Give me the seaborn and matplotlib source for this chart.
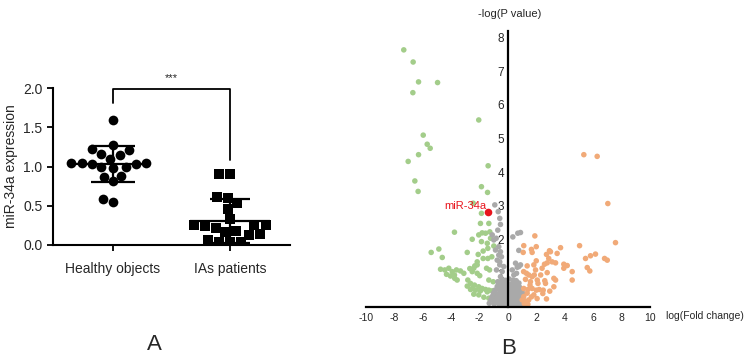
import matplotlib
matplotlib.use("Agg")
import matplotlib.pyplot as plt
import pandas as pd
import seaborn as sns

# ---- panel A: miR-34a expression ----
groups = ["Healthy objects", "IAs patients"]
healthy_vals = [1.59, 1.27, 1.21, 1.22, 1.16, 1.15, 1.10,
                1.04, 1.04, 1.04, 1.03, 1.03,
                0.99, 0.98, 0.99, 0.87, 0.88, 0.81, 0.55, 0.59]
ias_vals = [0.90, 0.90, 0.60, 0.61, 0.53, 0.46, 0.33,
            0.25, 0.25, 0.24, 0.25, 0.22,
            0.16, 0.13, 0.18, 0.14,
            0.04, 0.04, 0.04, 0.06]
group_means = [1.03, 0.30]
group_sds = [0.23, 0.28]
bracket_y = [1.99, 1.81, 1.08]   # top, left leg end, right leg end
signif_text = "***"

# ---- panel B: volcano ----
green_x = [-7.34, -6.68, -6.30, -4.96, -6.70, -2.06, -5.97, -5.69, -5.48, -6.30,
           -7.03, -1.40, -6.56, -6.33, -1.87, -1.44, -2.45, -1.87, -1.94, -1.35,
           -3.77, -1.82, -1.58, -2.06, -1.28, -1.23, -1.87, -1.46, -2.52, -1.00,
           -1.42, -5.41, -4.87, -4.63, -2.87, -1.75, -2.10, -1.14, -1.42, -2.17,
           -4.75, -4.45, -4.17, -3.93, -3.63, -3.35, -3.11, -4.33, -4.05, -3.77,
           -3.75, -3.58, -2.69, -2.52, -2.34, -2.17, -1.51, -1.30, -2.83, -2.64,
           -2.36, -2.06, -1.82, -1.58, -1.35, -1.11, -1.94, -2.29, -2.64, -0.88,
           -0.65, -1.04, -1.35, -2.87, -2.52, -1.46, -1.70, -1.35, -1.04, -2.41,
           -2.06, -1.99, -2.41, -2.17, -1.75]
green_y = [7.63, 7.27, 6.68, 6.66, 6.36, 5.55, 5.10, 4.83, 4.71, 4.52,
           4.32, 4.19, 3.74, 3.43, 3.57, 3.40, 3.08, 2.78, 2.48, 2.48,
           2.22, 2.20, 2.19, 2.14, 2.23, 2.04, 1.94, 1.89, 2.01, 1.81,
           1.74, 1.62, 1.72, 1.47, 1.62, 1.66, 1.56, 1.49, 1.44, 1.34,
           1.12, 1.10, 1.15, 1.05, 1.10, 1.07, 1.00, 0.97, 0.92, 0.95,
           0.85, 0.80, 1.14, 1.05, 1.22, 1.00, 1.15, 1.10, 0.80, 0.70,
           0.65, 0.60, 0.55, 0.52, 0.50, 0.48, 0.48, 0.50, 0.52, 0.36,
           0.29, 0.75, 0.80, 0.62, 0.55, 0.45, 0.29, 0.26, 0.21, 0.38,
           0.36, 0.93, 1.15, 1.25, 1.44]

grey_x = [-0.93, -0.69, -0.58, -0.53, -0.72, -0.83, -1.00, -1.11, -0.65, -0.53,
          -0.88, -0.46, -0.65, -0.76, -0.58, -0.58, -0.30, -0.81, -0.41, -0.53,
          -0.72, 0.34, 0.69, 0.88, 0.76, 0.88, 0.65, 0.30, 0.41, 0.53,
          0.76, 0.60,
          -0.42, -0.18, 0.08, 0.36, 0.58,
          -0.62, -0.33, -0.12, 0.21, 0.44, 0.77,
          -0.76, -0.49, -0.26, 0.02, 0.27, 0.52, 0.81,
          -0.92, -0.61, -0.36, -0.08, 0.16, 0.39, 0.66, 0.96,
          -1.02, -0.71, -0.44, -0.21, 0.06, 0.31, 0.57, 0.82, 1.06,
          -1.12, -0.79, -0.56, -0.29, -0.04, 0.22, 0.46, 0.71, 0.94,
          -1.21, -0.91, -0.62, -0.34, -0.11, 0.14, 0.41, 0.66, 0.89, 1.16,
          -1.32, -0.98, -0.69, -0.41, -0.16, 0.11, 0.36, 0.61, 0.86, 1.12,
          -0.61, -0.31, 0.01, 0.29, 0.62]
grey_y = [3.03, 2.83, 2.63, 2.45, 2.28, 2.04, 1.99, 2.14, 1.79, 1.64,
          1.69, 1.49, 1.54, 1.39, 1.34, 1.25, 1.20, 1.10, 1.05, 0.90,
          0.75, 2.08, 2.19, 2.21, 1.68, 1.25, 1.18, 1.10, 0.95, 1.30,
          1.20, 1.00,
          0.82, 0.79, 0.83, 0.80, 0.78,
          0.71, 0.69, 0.72, 0.68, 0.70, 0.71,
          0.61, 0.59, 0.62, 0.60, 0.58, 0.61, 0.59,
          0.50, 0.52, 0.49, 0.51, 0.48, 0.50, 0.52, 0.49,
          0.41, 0.39, 0.42, 0.40, 0.38, 0.41, 0.39, 0.42, 0.40,
          0.31, 0.29, 0.32, 0.30, 0.28, 0.31, 0.29, 0.32, 0.30,
          0.21, 0.19, 0.22, 0.20, 0.18, 0.21, 0.19, 0.22, 0.20, 0.18,
          0.11, 0.09, 0.12, 0.10, 0.08, 0.11, 0.09, 0.12, 0.10, 0.09,
          0.04, 0.03, 0.05, 0.03, 0.04]

orange_x = [1.89, 7.57, 5.04, 1.11, 1.99, 1.65, 3.70, 1.07, 1.70, 2.71,
            2.99, 3.46, 5.46, 5.81, 6.16, 6.80, 6.99, 1.99, 2.87, 3.11,
            2.76, 3.35, 2.57, 3.93, 4.17, 1.35, 1.82, 1.94, 3.93, 4.52,
            5.58, 5.76, 2.76, 3.23, 3.35, 4.52, 2.06, 2.11, 2.59, 2.64,
            1.46, 1.70, 1.23, 1.58, 1.11, 1.40, 1.70, 1.99, 2.20, 2.48,
            3.23, 2.94, 1.82, 1.35, 1.11, 1.00, 1.23, 1.46, 2.71, 5.34,
            6.28, 7.03, 2.92, 1.30, 1.55, 2.30, 2.40, 1.10, 1.85, 2.45,
            1.65, 2.05, 1.15, 1.40]
orange_y = [2.11, 1.91, 1.82, 1.82, 1.79, 1.71, 1.76, 1.62, 1.62, 1.56,
            1.64, 1.59, 1.44, 1.52, 1.57, 1.44, 1.39, 1.37, 1.44, 1.34,
            1.31, 1.31, 1.27, 1.27, 1.23, 1.22, 1.25, 1.10, 1.15, 1.05,
            1.17, 1.07, 1.02, 0.85, 0.80, 0.80, 0.80, 0.70, 0.78, 0.70,
            0.95, 0.90, 0.82, 0.75, 0.55, 0.52, 0.55, 0.50, 0.52, 0.50,
            0.60, 0.47, 0.36, 0.41, 0.31, 0.21, 0.16, 0.21, 0.24, 4.52,
            4.47, 3.07, 1.67, 1.00, 0.65, 0.95, 1.15, 1.05, 0.95, 0.40,
            0.30, 0.25, 0.10, 0.08]

highlight_name = "miR-34a"
highlight_x = [-1.40]
highlight_y = [2.83]

xticks_b = [-10, -8, -6, -4, -2, 0, 2, 4, 6, 8, 10]
yticks_b = [1, 2, 3, 4, 5, 6, 7, 8]

sns.set_theme(style="ticks")
plt.rcParams["font.family"] = ["Liberation Sans", "DejaVu Sans"]
plt.rcParams["axes.unicode_minus"] = False

fig = plt.figure(figsize=(7.5, 3.62), dpi=100)

# ---------------- panel A ----------------
ax1 = fig.add_axes([53 / 750, 117 / 362, 237 / 750, 157 / 362])
df_a = pd.DataFrame({
    "group": [groups[0]] * len(healthy_vals) + [groups[1]] * len(ias_vals),
    "value": healthy_vals + ias_vals,
})
sns.swarmplot(data=df_a[df_a["group"] == groups[0]], x="group", y="value",
              order=groups, color="black", marker="o", size=7, ax=ax1)
sns.swarmplot(data=df_a[df_a["group"] == groups[1]], x="group", y="value",
              order=groups, color="black", marker="s", size=7.5, ax=ax1)

half_mean = [0.32, 0.34]
half_cap = [0.19, 0.17]
for i in range(len(groups)):
    m, s = group_means[i], group_sds[i]
    lo = max(m - s, 0.01)
    ax1.hlines(m, i - half_mean[i], i + half_mean[i], color="black", lw=1.6, zorder=4)
    ax1.hlines([m + s, lo], i - half_cap[i], i + half_cap[i], color="black", lw=1.6, zorder=4)
    ax1.vlines(i, lo, m + s, color="black", lw=1.6, zorder=4)

ax1.plot([0, 0, 1, 1], [bracket_y[1], bracket_y[0], bracket_y[0], bracket_y[2]],
         color="black", lw=1.3, clip_on=False)
ax1.text(0.5, 2.13, signif_text, ha="center", va="center", fontsize=8)

ax1.set_xlim(-0.51, 1.51)
ax1.set_ylim(0, 2.0)
ax1.set_yticks([0, 0.5, 1.0, 1.5, 2.0])
ax1.set_yticklabels(["0.0", "0.5", "1.0", "1.5", "2.0"])
ax1.set_xlabel("")
ax1.set_ylabel("miR-34a expression", fontsize=10)
ax1.tick_params(axis="both", labelsize=10, length=4, width=1.3, color="black")
ax1.tick_params(axis="x", pad=8)
for sp in ["top", "right"]:
    ax1.spines[sp].set_visible(False)
for sp in ["left", "bottom"]:
    ax1.spines[sp].set_linewidth(1.5)
    ax1.spines[sp].set_color("black")
fig.text(154 / 750, 1 - 345 / 362, "A", ha="center", va="center", fontsize=16)

# ---------------- panel B ----------------
ax2 = fig.add_axes([366 / 750, 55 / 362, 284 / 750, 276 / 362])
df_b = pd.DataFrame({
    "logfc": green_x + grey_x + orange_x,
    "logp": green_y + grey_y + orange_y,
    "kind": ["down"] * len(green_x) + ["ns"] * len(grey_x) + ["up"] * len(orange_x),
})
palette = {"down": "#a3cd8a", "ns": "#a9a9a9", "up": "#f1aa78"}
sns.scatterplot(data=df_b, x="logfc", y="logp", hue="kind", palette=palette,
                s=16, linewidth=0, legend=False, ax=ax2, zorder=3)
sns.scatterplot(x=highlight_x, y=highlight_y, color="#e8141c", s=30,
                linewidth=0, ax=ax2, zorder=4)
ax2.text(highlight_x[0] - 0.15, highlight_y[0] + 0.17, highlight_name,
         color="#e8141c", fontsize=8, ha="right", va="center")

ax2.set_xlim(-10, 10)
ax2.set_ylim(0, 8.19)
ax2.spines["left"].set_position(("data", 0))
ax2.spines["bottom"].set_position(("data", 0))
for sp in ["top", "right"]:
    ax2.spines[sp].set_visible(False)
for sp in ["left", "bottom"]:
    ax2.spines[sp].set_linewidth(1.6)
    ax2.spines[sp].set_color("black")
    ax2.spines[sp].set_zorder(5)
ax2.set_xticks(xticks_b)
ax2.set_yticks(yticks_b)
ax2.tick_params(axis="x", length=0, labelsize=7.5, pad=4)
ax2.tick_params(axis="y", length=0, labelsize=8.5, pad=3)
ax2.set_xlabel("")
ax2.set_ylabel("")
fig.text(666 / 750, 1 - 316 / 362, "log(Fold change)", ha="left", va="center", fontsize=7.5)
fig.text(510 / 750, 1 - 14 / 362, "-log(P value)", ha="center", va="center", fontsize=8)
fig.text(509 / 750, 1 - 348 / 362, "B", ha="center", va="center", fontsize=16)

fig.savefig("out.png", dpi=100)
